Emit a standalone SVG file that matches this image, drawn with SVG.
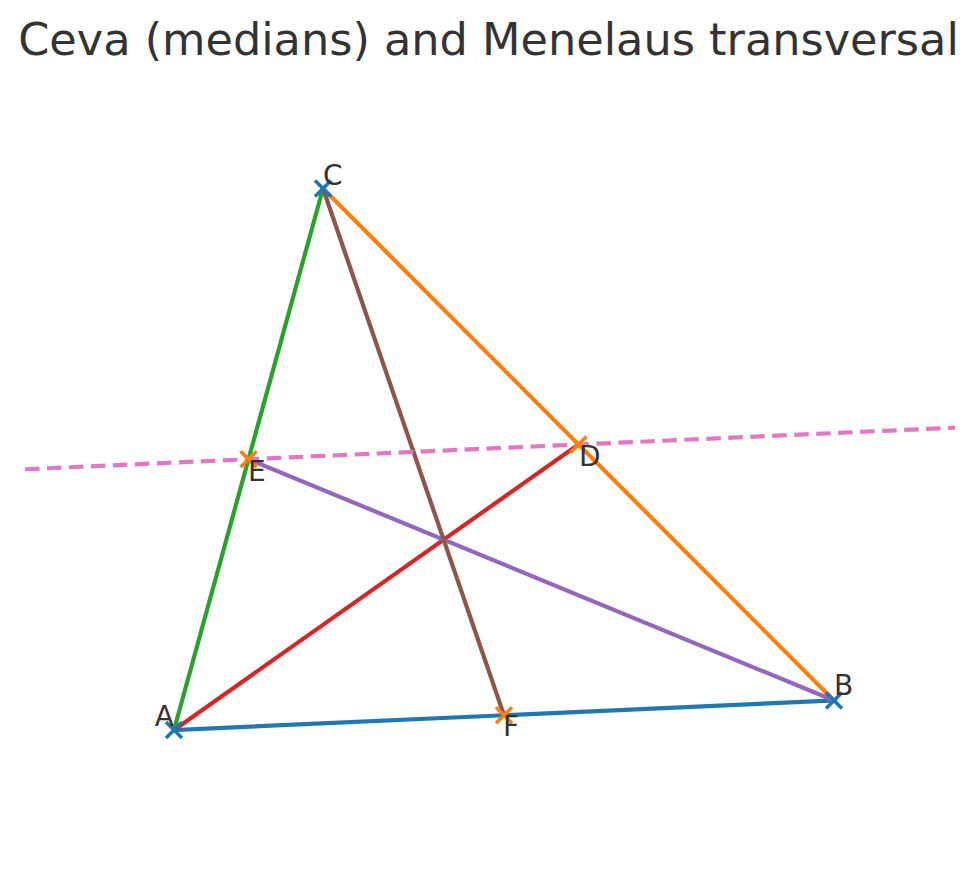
<svg xmlns="http://www.w3.org/2000/svg" width="977" height="870" viewBox="0 0 977 870">
<style>
.ln{fill:none;stroke-width:4.2;stroke-linecap:square}
.mk{fill:none;stroke-width:3.6}
.v{stroke:#1f77b4}
.m{stroke:#ff7f0e}
.lbl{font-family:"DejaVu Sans",sans-serif;font-size:28px;fill:#333333}
.title{font-family:"DejaVu Sans",sans-serif;font-size:44.6px;fill:#333333}
</style>
<defs>
<path id="x" d="M-8,-8L8,8M-8,8L8,-8"/>
</defs>
<rect width="977" height="870" fill="#ffffff"/>
<text class="title" x="488.5" y="55" text-anchor="middle">Ceva (medians) and Menelaus transversal</text>
<g id="connectors">
<line class="ln" x1="174" y1="730" x2="834" y2="700.5" stroke="#1f77b4"/>
<line class="ln" x1="834" y1="700.5" x2="323" y2="188.5" stroke="#ff7f0e"/>
<line class="ln" x1="323" y1="188.5" x2="174" y2="730" stroke="#2ca02c"/>
<line class="ln" x1="174" y1="730" x2="578.5" y2="444.5" stroke="#d62728"/>
<line class="ln" x1="834" y1="700.5" x2="248.5" y2="459.25" stroke="#9467bd"/>
<line class="ln" x1="323" y1="188.5" x2="504" y2="715.25" stroke="#8c564b"/>
<line x1="25" y1="469.24" x2="955" y2="427.67" stroke="#e377c2" stroke-width="4.2" stroke-dasharray="14.5 7.5" fill="none"/>
</g>
<g id="A"><use href="#x" class="mk v" x="174" y="730"/><text class="lbl" x="174" y="726" text-anchor="end">A</text></g>
<g id="B"><use href="#x" class="mk v" x="834" y="700.5"/><text class="lbl" x="834" y="695">B</text></g>
<g id="C"><use href="#x" class="mk v" x="323" y="188.5"/><text class="lbl" x="323" y="185">C</text></g>
<g id="D"><use href="#x" class="mk m" x="578.5" y="444.5"/><text class="lbl" x="579" y="466">D</text></g>
<g id="E"><use href="#x" class="mk m" x="248.5" y="459.25"/><text class="lbl" x="248" y="481">E</text></g>
<g id="F"><use href="#x" class="mk m" x="504" y="715.25"/><text class="lbl" x="503" y="736">F</text></g>
</svg>
